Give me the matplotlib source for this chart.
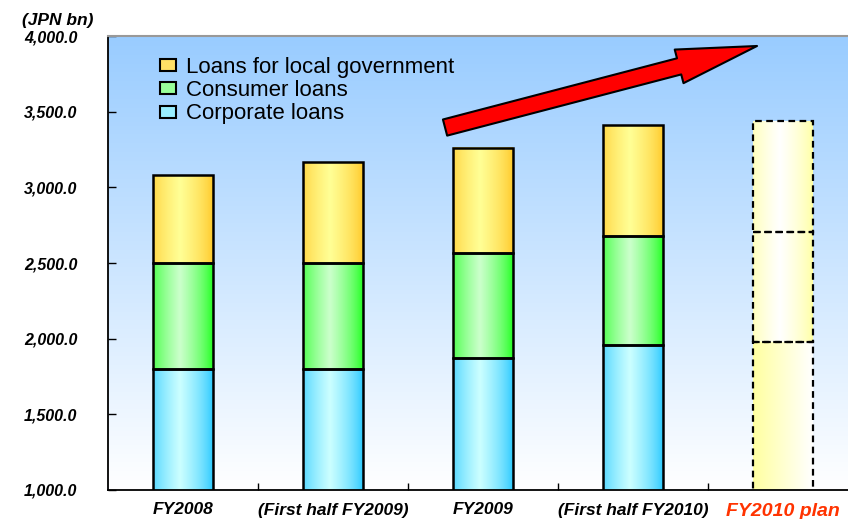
import numpy as np
import matplotlib.pyplot as plt
from matplotlib.patches import Patch, FancyArrowPatch

plt.rcParams['font.family'] = ['Liberation Sans', 'DejaVu Sans']

# data (JPN bn)
categories = ['FY2008', '(First half FY2009)', 'FY2009', '(First half FY2010)', 'FY2010 plan']
corporate = [1800, 1800, 1872, 1958, 1977]
consumer = [700, 700, 693, 720, 727]
local_gov = [580, 666, 694, 733, 733]
y_ticks = [1000, 1500, 2000, 2500, 3000, 3500, 4000]
series_labels = ['Loans for local government', 'Consumer loans', 'Corporate loans']

# colours: (edge, centre) of the horizontal shading
yellow = (np.array([255, 200, 40]) / 255, np.array([255, 255, 150]) / 255)
green = (np.array([30, 255, 30]) / 255, np.array([204, 255, 204]) / 255)
blue = (np.array([40, 200, 255]) / 255, np.array([204, 255, 255]) / 255)
plan_col = (np.array([255, 255, 160]) / 255, np.array([255, 255, 255]) / 255)


def shade(cols, one_sided=False, n=80):
    edge, centre = cols
    u = np.linspace(0, 1, n)
    if one_sided:
        p = u
    else:
        p = np.clip(1 - np.abs(u - 0.45) / 0.55, 0, 1) ** 0.7
    rgb = edge + (centre - edge) * p[:, None]
    return rgb[None, :, :]


W, H = 848, 519
fig = plt.figure(figsize=(W / 100, H / 100), dpi=100)
ax = fig.add_axes([108 / W, 29 / H, 750 / W, 454 / H])

# background gradient
top = np.array([153, 204, 255]) / 255
bot = np.array([255, 255, 255]) / 255
t = np.linspace(0, 1, 200)[:, None]
bg = (top + (bot - top) * t)[:, None, :]
ax.imshow(bg, extent=[0, 1, 0, 1], transform=ax.transAxes, aspect='auto', zorder=0)

width = 0.4
n = len(categories)
for i in range(n):
    segs = [(0, corporate[i]),
            (corporate[i], consumer[i]),
            (corporate[i] + consumer[i], local_gov[i])]
    plan = (i == n - 1)
    for k, (b, h) in enumerate(segs):
        if plan:
            img = shade(plan_col, one_sided=(k == 0))
        else:
            img = shade([blue, green, yellow][k])
        ax.imshow(img, extent=[i - width / 2, i + width / 2, b, b + h],
                  aspect='auto', zorder=2, interpolation='bilinear')
        if plan:
            ax.bar(i, h, bottom=b, width=width, fill=False, edgecolor='black',
                   lw=1.6, linestyle=(0, (3, 2)), zorder=3)
        else:
            ax.bar(i, h, bottom=b, width=width, fill=False, edgecolor='black',
                   lw=1.8, zorder=3)

ax.set_xlim(-0.5, 4.5)
ax.set_ylim(1000, 4000)

# rising trend arrow
arrow = FancyArrowPatch((1.747, 3395), (3.827, 3934),
                        arrowstyle='simple,head_length=58,head_width=25,tail_width=12',
                        mutation_scale=1, fc='red', ec='black', lw=1.5,
                        shrinkA=0, shrinkB=0, zorder=5)
ax.add_patch(arrow)

# axes styling
ax.spines['right'].set_visible(False)
ax.spines['top'].set_color('#999999')
ax.spines['top'].set_linewidth(1.5)
ax.spines['left'].set_linewidth(1.3)
ax.spines['bottom'].set_linewidth(1.3)

ax.set_yticks(y_ticks)
ax.set_yticklabels([f'{v:,.1f}' for v in y_ticks], fontsize=11.5,
                   fontweight='bold', fontstyle='italic')
ax.tick_params(axis='y', direction='in', length=6, width=1, pad=22)

ax.set_xticks(range(n))
ax.set_xticklabels(categories, fontsize=12.5, fontweight='bold', fontstyle='italic')
ax.tick_params(axis='x', which='major', length=0, pad=9)
ax.set_xticks(np.arange(0.5, n - 1, 1), minor=True)
ax.tick_params(axis='x', which='minor', direction='in', length=5, width=1)
last = ax.get_xticklabels()[-1]
last.set_color('#FF3300')
last.set_fontsize(14)

fig.text(22 / W, 1 - 21 / H, '(JPN bn)', fontsize=12.5, fontweight='bold',
         fontstyle='italic', va='center', ha='left')

handles = [Patch(facecolor='#FFE066', edgecolor='black', lw=1.5),
           Patch(facecolor='#99FF99', edgecolor='black', lw=1.5),
           Patch(facecolor='#99EEFF', edgecolor='black', lw=1.5)]
ax.legend(handles, series_labels, loc='upper left',
          bbox_to_anchor=(160 / W, 1 - 57 / H), bbox_transform=fig.transFigure,
          frameon=False, fontsize=16, handlelength=0.7, handleheight=0.45,
          handletextpad=0.45, labelspacing=0.1, borderpad=0, borderaxespad=0)

fig.savefig('out.png', dpi=100)
